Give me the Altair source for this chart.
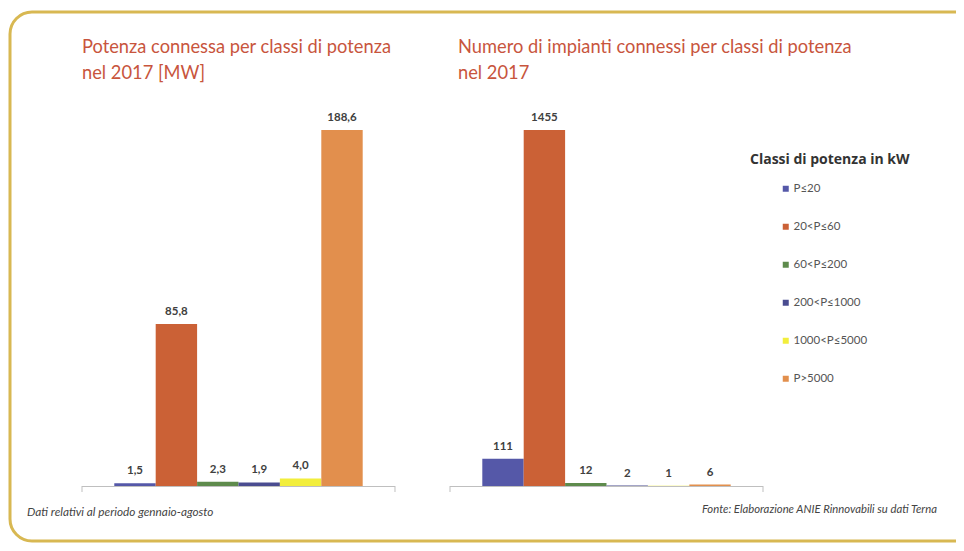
import altair as alt
import pandas as pd

# ---- data ----
classes = ["P≤20", "20<P≤60", "60<P≤200", "200<P≤1000", "1000<P≤5000", "P>5000"]
potenza_mw = [1.5, 85.8, 2.3, 1.9, 4.0, 188.6]
numero_impianti = [111, 1455, 12, 2, 1, 6]
class_colors = ["#5558A8", "#CB6136", "#5E8B4C", "#4A4C90", "#F2EE3C", "#E28F4D"]

panels = ["L", "R"]
title_left = ["Potenza connessa per classi di potenza", "nel 2017 [MW]"]
title_right = ["Numero di impianti connessi per classi di potenza", "nel 2017"]
note_left = "Dati relativi al periodo gennaio-agosto"
note_right = "Fonte: Elaborazione ANIE Rinnovabili su dati Terna"
legend_title = "Classi di potenza in kW"


def it_fmt(v):
    return f"{v:.1f}".replace(".", ",")


df_left = pd.DataFrame({
    "panel": "L",
    "classe": classes,
    "valore": potenza_mw,
    "etichetta": [it_fmt(v) for v in potenza_mw],
})
df_right = pd.DataFrame({
    "panel": "R",
    "classe": classes,
    "valore": numero_impianti,
    "etichetta": [str(v) for v in numero_impianti],
})
df_panels = pd.DataFrame({"panel": panels})
one = pd.DataFrame({"a": [0]})

FONT = "Lato"
TITLE_COLOR = "#C8553D"

x_scale = alt.Scale(domain=panels, range=[74, 755], paddingInner=0.1495, paddingOuter=0)
xo_scale = alt.Scale(domain=classes, paddingInner=0, paddingOuter=0.78)
color_scale = alt.Scale(domain=classes, range=class_colors)

legend = alt.Legend(
    title=legend_title,
    orient="none",
    legendX=742,
    legendY=145,
    titleFont="Open Sans",
    titleFontSize=14,
    titleFontWeight="bold",
    titleColor="#333333",
    titlePadding=16,
    labelFont=FONT,
    labelFontSize=11.5,
    labelColor="#555555",
    labelOffset=2,
    symbolType="square",
    symbolSize=36,
    symbolStrokeWidth=0,
    symbolOffset=30,
    rowPadding=25,
)


def panel_layers(df, ymax):
    ys = alt.Scale(domain=[0, ymax], range=[478, 122], nice=False, zero=True)
    base = alt.Chart(df).encode(
        x=alt.X("panel:N", scale=x_scale, axis=None),
        xOffset=alt.XOffset("classe:N", scale=xo_scale, sort=classes),
        y=alt.Y("valore:Q", scale=ys, axis=None),
    )
    bars = base.mark_bar().encode(
        color=alt.Color("classe:N", scale=color_scale, sort=classes, legend=legend)
    )
    labels = base.mark_text(
        baseline="bottom", dy=-7, font=FONT, fontSize=11.5, fontWeight="bold", color="#404040"
    ).encode(text="etichetta:N")
    return bars, labels


bars_l, labels_l = panel_layers(df_left, max(potenza_mw))
bars_r, labels_r = panel_layers(df_right, max(numero_impianti))

baseline = alt.Chart(df_panels).mark_rect(color="#BFBFBF").encode(
    x=alt.X("panel:N", scale=x_scale, axis=None),
    y=alt.value(478),
    y2=alt.value(479),
)
tick_start = alt.Chart(df_panels).mark_rule(color="#BFBFBF").encode(
    x=alt.X("panel:N", scale=x_scale, axis=None, bandPosition=0),
    y=alt.value(478),
    y2=alt.value(484),
)
tick_end = alt.Chart(df_panels).mark_rule(color="#BFBFBF").encode(
    x=alt.X("panel:N", scale=x_scale, axis=None, bandPosition=1),
    y=alt.value(478),
    y2=alt.value(484),
)

t_left = alt.Chart(one).mark_text(
    text=title_left, align="left", baseline="top", font=FONT, fontSize=18.3,
    lineHeight=26, color=TITLE_COLOR,
).encode(x=alt.value(74), y=alt.value(31))
t_right = alt.Chart(one).mark_text(
    text=title_right, align="left", baseline="top", font=FONT, fontSize=18.3,
    lineHeight=26, color=TITLE_COLOR,
).encode(x=alt.value(450), y=alt.value(31))

n_left = alt.Chart(one).mark_text(
    text=note_left, align="left", baseline="middle", font=FONT, fontSize=11.8,
    fontStyle="italic", color="#444444",
).encode(x=alt.value(19), y=alt.value(504))
n_right = alt.Chart(one).mark_text(
    text=note_right, align="right", baseline="middle", font=FONT, fontSize=11.3,
    fontStyle="italic", color="#444444",
).encode(x=alt.value(929), y=alt.value(502))

border = alt.Chart(one).mark_rect(
    fill="transparent", stroke="#D8B852", strokeWidth=3, cornerRadius=22,
).encode(x=alt.value(2), x2=alt.value(990), y=alt.value(4), y2=alt.value(533))

chart = alt.layer(
    border, baseline, tick_start, tick_end,
    bars_l, labels_l, bars_r, labels_r,
    t_left, t_right, n_left, n_right,
).resolve_scale(y="independent").properties(
    width=948,
    height=535,
    autosize=alt.AutoSizeParams(type="none"),
    padding=0,
    background="white",
).configure_view(stroke=None)

chart.save("out.html", embed_options={"renderer": "svg", "actions": False})
